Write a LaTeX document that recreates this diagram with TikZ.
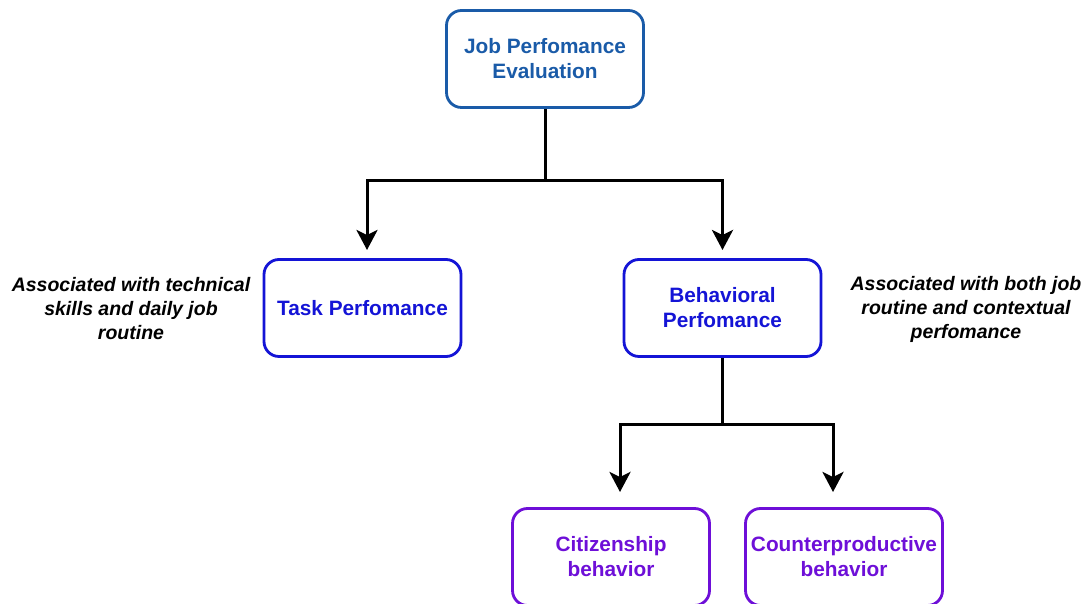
\documentclass[tikz,border=0pt]{standalone}
\usepackage{fontspec}
\setmainfont{Liberation Sans}
\usetikzlibrary{arrows.meta,calc}

\definecolor{topblue}{HTML}{1A5BA8}
\definecolor{midblue}{HTML}{1414D6}
\definecolor{lowpurple}{HTML}{6E0FD8}

\tikzset{
  box/.style={draw, line width=2.8pt, rounded corners=15pt, fill=white,
    minimum width=197pt, minimum height=97pt, align=center,
    font=\fontsize{20.8pt}{25pt}\selectfont\bfseries},
  note/.style={align=center, text=black,
    font=\fontsize{19.5pt}{24pt}\selectfont\bfseries\itshape},
  conn/.style={draw=black, line width=3pt,
    -{Stealth[length=20pt,width=21pt,inset=5pt]}}
}

\begin{document}
\begin{tikzpicture}[x=1pt,y=1pt]
  \useasboundingbox (0,0) rectangle (1086,604);
  \fill[white] (0,0) rectangle (1086,604);
  \clip (0,0) rectangle (1086,604);

  % boxes
  \node[box, draw=topblue, text=topblue] (eval) at (545,545) {Job Perfomance\\Evaluation};
  \node[box, draw=midblue, text=midblue] (task) at (362.5,296) {Task Perfomance};
  \node[box, draw=midblue, text=midblue] (behav) at (722.5,296) {Behavioral\\Perfomance};
  \node[box, draw=lowpurple, text=lowpurple] (citiz) at (611,47) {Citizenship\\behavior};
  \node[box, draw=lowpurple, text=lowpurple] (counter) at (844,47) {Counterproductive\\behavior};

  % side notes
  \node[note] (tasknote) at (131,295) {Associated with technical\\skills and daily job\\routine};
  \node[note] (behavnote) at (966,295) {Associated with both job\\routine and contextual\\perfomance};

  % branch points and arrow ends
  \coordinate (fork1) at (545,423);
  \coordinate (tipT) at (367,354);
  \coordinate (tipB) at (722.5,354);
  \coordinate (fork2) at (722.5,179);
  \coordinate (tipC) at (620,112);
  \coordinate (tipX) at (833,112);

  % connectors
  \draw[conn] (eval.south) -- (fork1) -| (tipT);
  \draw[conn] (fork1) -| (tipB);
  \draw[conn] (behav.south) -- (fork2) -| (tipC);
  \draw[conn] (fork2) -| (tipX);
\end{tikzpicture}
\end{document}
